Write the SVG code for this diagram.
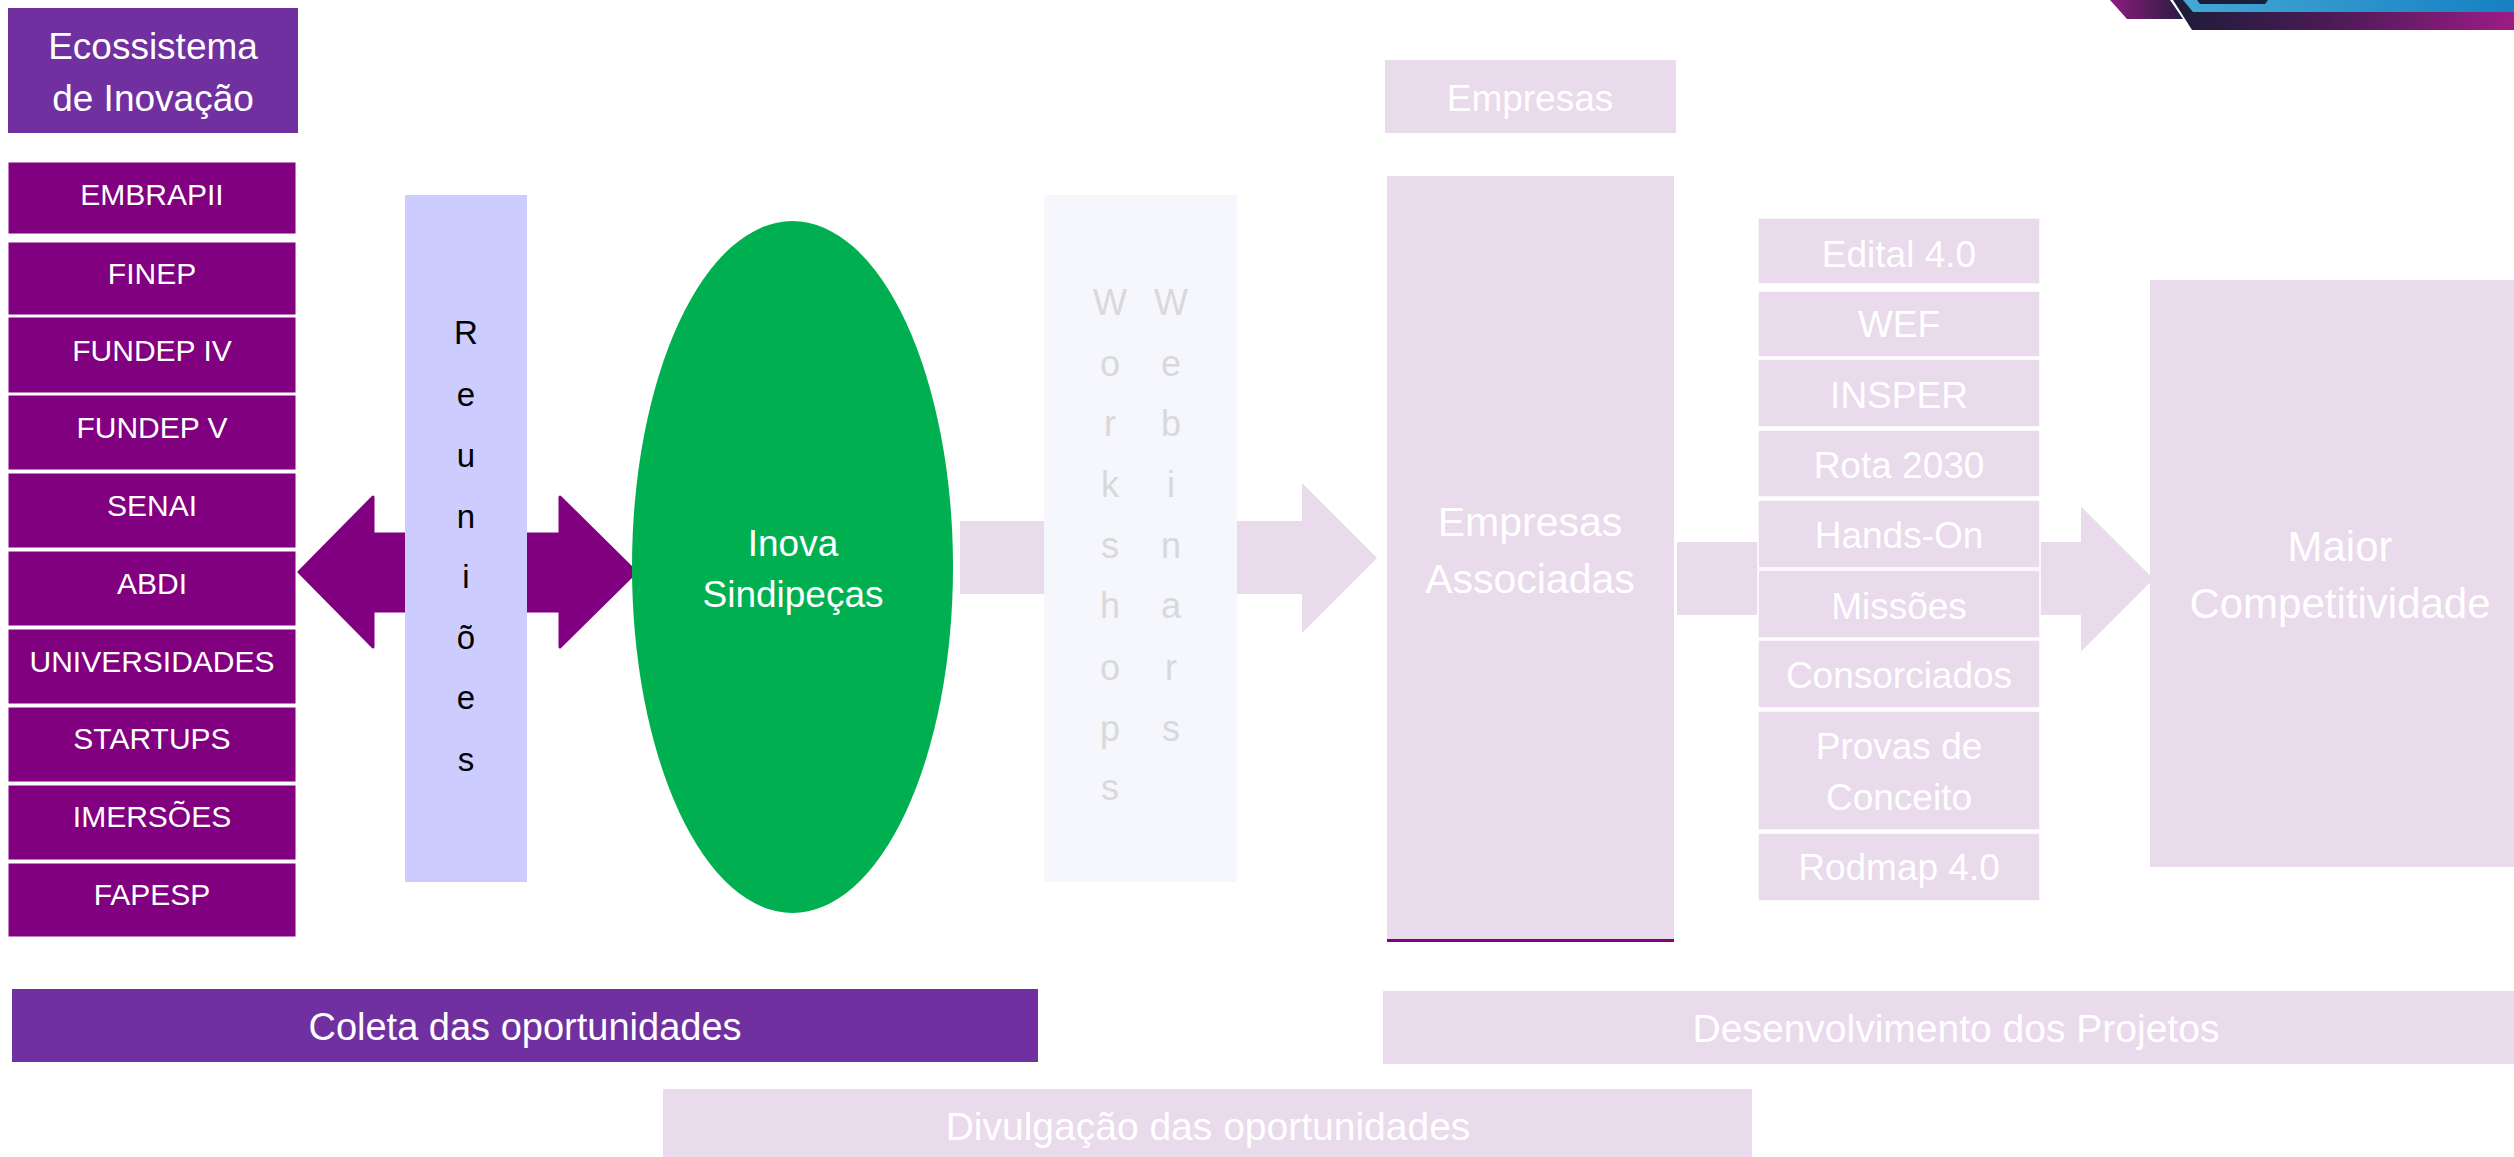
<svg xmlns="http://www.w3.org/2000/svg" width="2514" height="1157" viewBox="0 0 2514 1157">
<defs>
<style>
text{font-family:"Liberation Sans",Arial,sans-serif;text-anchor:middle;}
.w{fill:#ffffff;}
.pk{fill:#E9DAEC;}
.pl{fill:#800080;stroke:#ffffff;stroke-width:1;}
.rl{fill:#E9DAEC;stroke:#ffffff;stroke-width:1.5;}
.t30{font-size:30px;}
.t37{font-size:37px;}
.t39{font-size:39px;}
.t41{font-size:41px;}
.vr{font-size:33px;fill:#000000;}
.vw{font-size:36px;fill:#D9D9D9;}
</style>
<linearGradient id="gNavy" x1="0" y1="0" x2="1" y2="0">
<stop offset="0" stop-color="#1c1d3a"/><stop offset="0.45" stop-color="#4a1a55"/><stop offset="1" stop-color="#9c1c86"/>
</linearGradient>
<linearGradient id="gBlue" x1="0" y1="0" x2="1" y2="0">
<stop offset="0" stop-color="#44a8d4"/><stop offset="1" stop-color="#1680c2"/>
</linearGradient>
<linearGradient id="gPur" x1="0" y1="0" x2="1" y2="0">
<stop offset="0" stop-color="#8e1c7e"/><stop offset="1" stop-color="#2a1c40"/>
</linearGradient>
</defs>
<rect width="2514" height="1157" fill="#ffffff"/>

<g id="decoration">
<polygon points="2110,0 2170,0 2183,19 2127,19" fill="url(#gPur)"/>
<polygon points="2173,0 2514,0 2514,30 2192,30" fill="url(#gNavy)"/>
<polygon points="2183,0 2514,0 2514,12 2193,12" fill="url(#gBlue)"/>
<polygon points="2197,0 2268,0 2265,4 2200,4" fill="#1c1d3a"/>
</g>

<g id="connectors">
<polygon points="299,572 373,497 373,534 560,534 560,497 636,572 560,647 560,611 373,611 373,647" fill="#800080" stroke="#800080" stroke-width="3" stroke-linejoin="round"/>
<polygon points="960,521 1302,521 1302,483 1377,558 1302,633 1302,594 960,594" class="pk"/>
<polygon points="1676,541 2080,541 2080,504 2155,579 2080,654 2080,616 1676,616" class="pk" stroke="#ffffff" stroke-width="2"/>
</g>

<g id="ecossistema">
<rect x="8" y="8" width="290" height="125" fill="#7030A0"/>
<text x="153" y="59" class="w t37">Ecossistema</text>
<text x="153" y="111" class="w t37">de Inovação</text>
</g>

<g id="lista-ecossistema">
<g id="embrapii"><rect x="8" y="162" width="288" height="72" class="pl"/><text x="152" y="205" class="w t30">EMBRAPII</text></g>
<g id="finep"><rect x="8" y="242" width="288" height="73" class="pl"/><text x="152" y="284" class="w t30">FINEP</text></g>
<g id="fundep-iv"><rect x="8" y="317" width="288" height="76" class="pl"/><text x="152" y="361" class="w t30">FUNDEP IV</text></g>
<g id="fundep-v"><rect x="8" y="395" width="288" height="75" class="pl"/><text x="152" y="438" class="w t30">FUNDEP V</text></g>
<g id="senai"><rect x="8" y="473" width="288" height="75" class="pl"/><text x="152" y="516" class="w t30">SENAI</text></g>
<g id="abdi"><rect x="8" y="551" width="288" height="75" class="pl"/><text x="152" y="594" class="w t30">ABDI</text></g>
<g id="universidades"><rect x="8" y="629" width="288" height="75" class="pl"/><text x="152" y="672" class="w t30">UNIVERSIDADES</text></g>
<g id="startups"><rect x="8" y="707" width="288" height="75" class="pl"/><text x="152" y="749" class="w t30">STARTUPS</text></g>
<g id="imersoes"><rect x="8" y="785" width="288" height="75" class="pl"/><text x="152" y="827" class="w t30">IMERSÕES</text></g>
<g id="fapesp"><rect x="8" y="863" width="288" height="74" class="pl"/><text x="152" y="905" class="w t30">FAPESP</text></g>
</g>

<g id="reunioes">
<rect x="405" y="195" width="122" height="687" fill="#CCCCFF"/>
<text x="466" y="344" class="vr">R</text>
<text x="466" y="406" class="vr">e</text>
<text x="466" y="467" class="vr">u</text>
<text x="466" y="528" class="vr">n</text>
<text x="466" y="588" class="vr">i</text>
<text x="466" y="649" class="vr">õ</text>
<text x="466" y="709" class="vr">e</text>
<text x="466" y="771" class="vr">s</text>
</g>

<g id="inova-sindipecas">
<ellipse cx="792.5" cy="567" rx="160.5" ry="346" fill="#00B050"/>
<text x="793" y="556" class="w t37">Inova</text>
<text x="793" y="607" class="w t37">Sindipeças</text>
</g>

<g id="workshops-webinars">
<rect x="1044" y="195" width="193" height="687" fill="#F6F6FD"/>
<text x="1110" y="315" class="vw">W</text>
<text x="1110" y="376" class="vw">o</text>
<text x="1110" y="436" class="vw">r</text>
<text x="1110" y="497" class="vw">k</text>
<text x="1110" y="558" class="vw">s</text>
<text x="1110" y="618" class="vw">h</text>
<text x="1110" y="680" class="vw">o</text>
<text x="1110" y="741" class="vw">p</text>
<text x="1110" y="800" class="vw">s</text>
<text x="1171" y="315" class="vw">W</text>
<text x="1171" y="376" class="vw">e</text>
<text x="1171" y="436" class="vw">b</text>
<text x="1171" y="497" class="vw">i</text>
<text x="1171" y="558" class="vw">n</text>
<text x="1171" y="618" class="vw">a</text>
<text x="1171" y="680" class="vw">r</text>
<text x="1171" y="741" class="vw">s</text>
</g>

<g id="empresas">
<rect x="1385" y="60" width="291" height="73" class="pk"/>
<text x="1530" y="111" class="w t37">Empresas</text>
</g>

<g id="empresas-associadas">
<rect x="1387" y="176" width="287" height="763" class="pk"/>
<rect x="1387" y="939" width="287" height="3" fill="#800080"/>
<text x="1530" y="536" class="w t41">Empresas</text>
<text x="1530" y="593" class="w t41">Associadas</text>
</g>

<g id="lista-projetos">
<g id="edital"><rect x="1758" y="218" width="282" height="66" class="rl"/><text x="1899" y="267" class="w t37">Edital 4.0</text></g>
<g id="wef"><rect x="1758" y="291" width="282" height="66" class="rl"/><text x="1899" y="337" class="w t37">WEF</text></g>
<g id="insper"><rect x="1758" y="359" width="282" height="68" class="rl"/><text x="1899" y="408" class="w t37">INSPER</text></g>
<g id="rota"><rect x="1758" y="430" width="282" height="67" class="rl"/><text x="1899" y="478" class="w t37">Rota 2030</text></g>
<g id="hands-on"><rect x="1758" y="500" width="282" height="68" class="rl"/><text x="1899" y="548" class="w t37">Hands-On</text></g>
<g id="missoes"><rect x="1758" y="570" width="282" height="68" class="rl"/><text x="1899" y="619" class="w t37">Missões</text></g>
<g id="consorciados"><rect x="1758" y="640" width="282" height="68" class="rl"/><text x="1899" y="688" class="w t37">Consorciados</text></g>
<g id="provas"><rect x="1758" y="711" width="282" height="119" class="rl"/><text x="1899" y="759" class="w t37">Provas de</text><text x="1899" y="810" class="w t37">Conceito</text></g>
<g id="rodmap"><rect x="1758" y="833" width="282" height="68" class="rl"/><text x="1899" y="880" class="w t37">Rodmap 4.0</text></g>
</g>

<g id="maior-competitividade">
<rect x="2150" y="280" width="380" height="587" class="pk"/>
<text x="2340" y="561" class="w" font-size="42">Maior</text>
<text x="2340" y="618" class="w" font-size="42">Competitividade</text>
</g>

<g id="coleta">
<rect x="12" y="989" width="1026" height="73" fill="#7030A0"/>
<text x="525" y="1040" class="w" font-size="38">Coleta das oportunidades</text>
</g>

<g id="desenvolvimento">
<rect x="1383" y="991" width="1140" height="73" class="pk"/>
<text x="1956" y="1042" class="w t39">Desenvolvimento dos Projetos</text>
</g>

<g id="divulgacao">
<rect x="663" y="1089" width="1089" height="80" class="pk"/>
<text x="1208" y="1140" class="w t39">Divulgação das oportunidades</text>
</g>
</svg>
